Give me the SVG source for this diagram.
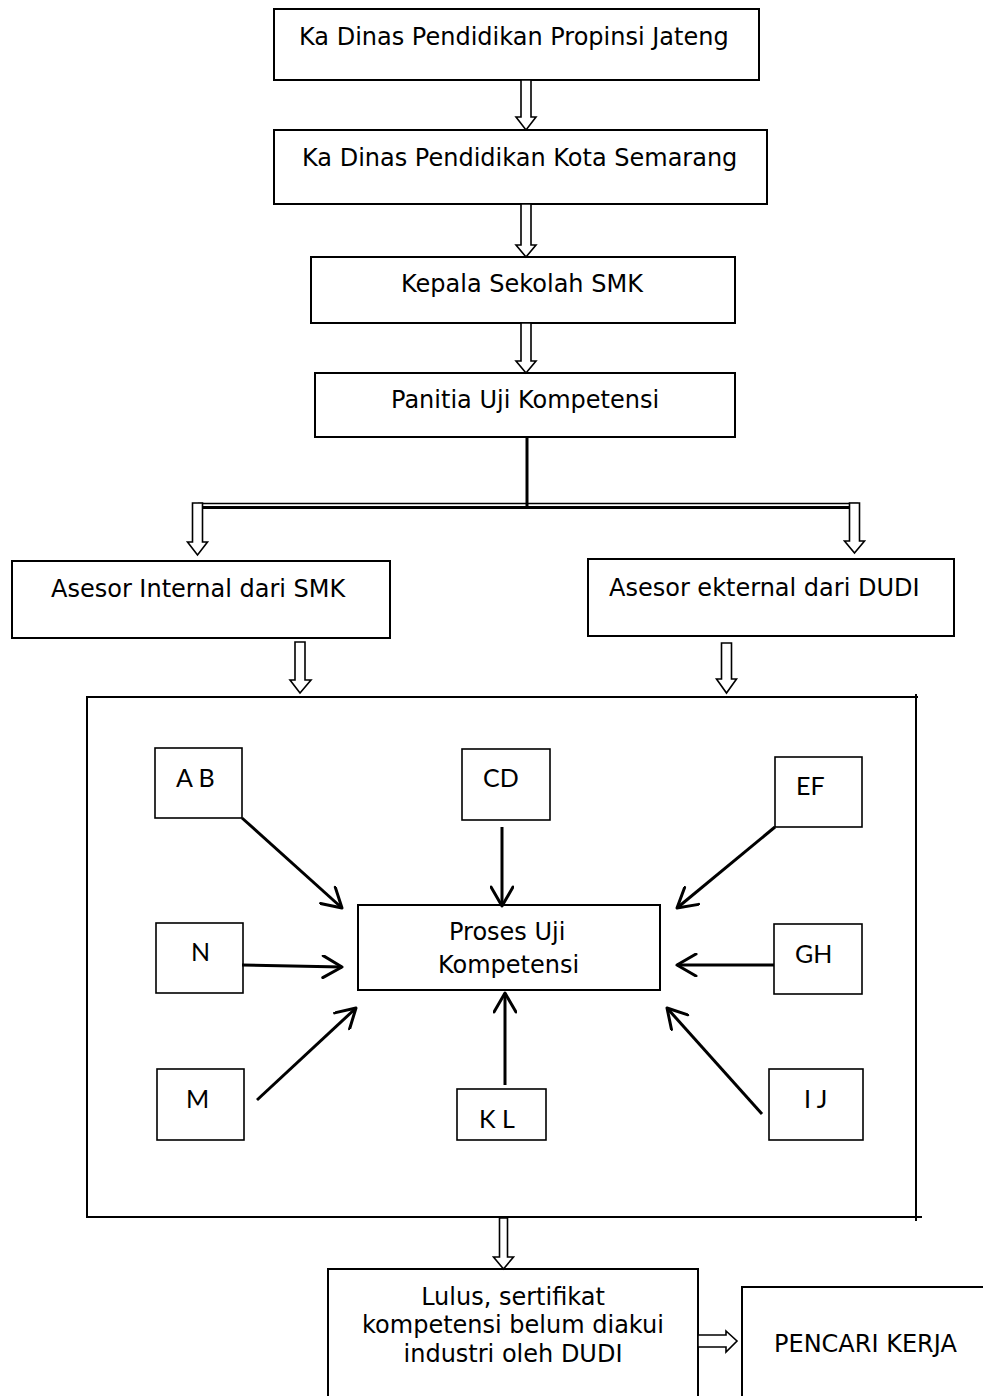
<svg xmlns="http://www.w3.org/2000/svg" width="983" height="1396" viewBox="0 0 983 1396">
<style>
  .box{fill:#fff;stroke:#000;stroke-width:2}
  .sbox{fill:#fff;stroke:#000;stroke-width:1.6}
  .t{font-family:"DejaVu Sans","Verdana",sans-serif;font-size:24px;fill:#000}
  .c{text-anchor:middle}
  .lab{font-family:Lato,"Liberation Sans",sans-serif;font-size:25px;fill:#000}
  .blk{fill:#fff;stroke:#000;stroke-width:1.6;stroke-linejoin:miter}
  .ln{stroke:#000;fill:none}
  .arr{stroke:#000;stroke-width:3;fill:none;marker-end:url(#vh)}
</style>
<defs>
  <marker id="vh" markerUnits="userSpaceOnUse" viewBox="0 0 24 24" markerWidth="24" markerHeight="24" refX="22" refY="12" orient="auto">
    <path d="M3,1 L22,12 L3,23" fill="none" stroke="#000" stroke-width="3" stroke-linejoin="round" stroke-linecap="round"/>
  </marker>
</defs>

<g id="n-propinsi">
  <rect class="box" x="274" y="9" width="485" height="71"/>
  <text class="t" x="299" y="45">Ka Dinas Pendidikan Propinsi Jateng</text>
</g>
<g id="n-kota">
  <rect class="box" x="274" y="130" width="493" height="74"/>
  <text class="t" x="302" y="166">Ka Dinas Pendidikan Kota Semarang</text>
</g>
<g id="n-kepsek">
  <rect class="box" x="311" y="257" width="424" height="66"/>
  <text class="t" x="401" y="292">Kepala Sekolah SMK</text>
</g>
<g id="n-panitia">
  <rect class="box" x="315" y="373" width="420" height="64"/>
  <text class="t" x="391" y="408">Panitia Uji Kompetensi</text>
</g>
<g id="n-internal">
  <rect class="box" x="12" y="561" width="378" height="77"/>
  <text class="t" x="51" y="597">Asesor Internal dari SMK</text>
</g>
<g id="n-eksternal">
  <rect class="box" x="588" y="559" width="366" height="77"/>
  <text class="t" x="609" y="596">Asesor ekternal dari DUDI</text>
</g>
<g id="n-frame">
  <line class="ln" stroke-width="2" x1="86" y1="697" x2="918" y2="697"/>
  <line class="ln" stroke-width="2" x1="87" y1="697" x2="87" y2="1218"/>
  <line class="ln" stroke-width="2" x1="916" y1="694" x2="916" y2="1221"/>
  <line class="ln" stroke-width="2" x1="86" y1="1217" x2="922" y2="1217"/>
</g>
<g id="n-ab">
  <rect class="sbox" x="155" y="748" width="87" height="70"/>
  <text class="lab" x="176" y="787">A B</text>
</g>
<g id="n-cd">
  <rect class="sbox" x="462" y="749" width="88" height="71"/>
  <text class="lab" x="483" y="787">CD</text>
</g>
<g id="n-ef">
  <rect class="sbox" x="775" y="757" width="87" height="70"/>
  <text class="lab" x="796" y="795">EF</text>
</g>
<g id="n-n">
  <rect class="sbox" x="156" y="923" width="87" height="70"/>
  <text class="lab" x="191" y="961">N</text>
</g>
<g id="n-proses">
  <rect class="box" x="358" y="905" width="302" height="85"/>
  <text class="t" x="449" y="940">Proses Uji</text>
  <text class="t" x="438" y="973">Kompetensi</text>
</g>
<g id="n-gh">
  <rect class="sbox" x="774" y="924" width="88" height="70"/>
  <text class="lab" x="795" y="963">GH</text>
</g>
<g id="n-m">
  <rect class="sbox" x="157" y="1069" width="87" height="71"/>
  <text class="lab" x="186" y="1108">M</text>
</g>
<g id="n-kl">
  <rect class="sbox" x="457" y="1089" width="89" height="51"/>
  <text class="lab" x="479" y="1128">K L</text>
</g>
<g id="n-ij">
  <rect class="sbox" x="769" y="1069" width="94" height="71"/>
  <text class="lab" x="804" y="1108">I J</text>
</g>
<g id="n-lulus">
  <rect class="box" x="328" y="1269" width="370" height="130"/>
  <text class="t c" x="513" y="1305">Lulus, sertifikat</text>
  <text class="t c" x="513" y="1333">kompetensi belum diakui</text>
  <text class="t c" x="513" y="1362">industri oleh DUDI</text>
</g>
<g id="n-pencari">
  <rect class="box" x="742" y="1287" width="300" height="150"/>
  <text class="t" x="774" y="1352">PENCARI KERJA</text>
</g>

<g id="connectors">
  <path class="blk" d="M521,80 L531,80 L531,117 L536,117 L526,130 L516,117 L521,117 Z"/>
  <path class="blk" d="M521,204 L531,204 L531,245 L536,245 L526,257 L516,245 L521,245 Z"/>
  <path class="blk" d="M521,323 L531,323 L531,361 L536,361 L526,373 L516,361 L521,361 Z"/>
  <line class="ln" stroke-width="3" x1="527" y1="437" x2="527" y2="509"/>
  <line class="ln" stroke-width="1.5" x1="198" y1="503.5" x2="858" y2="503.5"/>
  <line class="ln" stroke-width="3" x1="202" y1="507.5" x2="851" y2="507.5"/>
  <path class="blk" d="M192.5,503 L202.5,503 L202.5,542 L207.5,542 L197.5,555 L187.5,542 L192.5,542 Z"/>
  <path class="blk" d="M849.5,503 L859.5,503 L859.5,541 L864.5,541 L854.5,553 L844.5,541 L849.5,541 Z"/>
  <path class="blk" d="M295,642 L305,642 L305,680 L311,680 L300,693 L290,680 L295,680 Z"/>
  <path class="blk" d="M721.5,643 L731.5,643 L731.5,679 L736.5,679 L726.5,693 L716.5,679 L721.5,679 Z"/>
  <path class="blk" d="M499.5,1218 L507.5,1218 L507.5,1257 L513.5,1257 L503.5,1269 L493.5,1257 L499.5,1257 Z"/>
  <path class="blk" d="M698,1335 L726,1335 L726,1331 L737,1341 L726,1352 L726,1347 L698,1347 Z"/>
  <line class="arr" x1="242" y1="818" x2="342" y2="908"/>
  <line class="arr" x1="502" y1="827" x2="502" y2="906"/>
  <line class="arr" x1="775" y1="827" x2="677" y2="908"/>
  <line class="arr" x1="242" y1="965" x2="342" y2="967"/>
  <line class="arr" x1="774" y1="965" x2="677" y2="965"/>
  <line class="arr" x1="257" y1="1100" x2="356" y2="1008"/>
  <line class="arr" x1="505" y1="1085" x2="505" y2="993"/>
  <line class="arr" x1="762" y1="1114" x2="667" y2="1008"/>
</g>
</svg>
